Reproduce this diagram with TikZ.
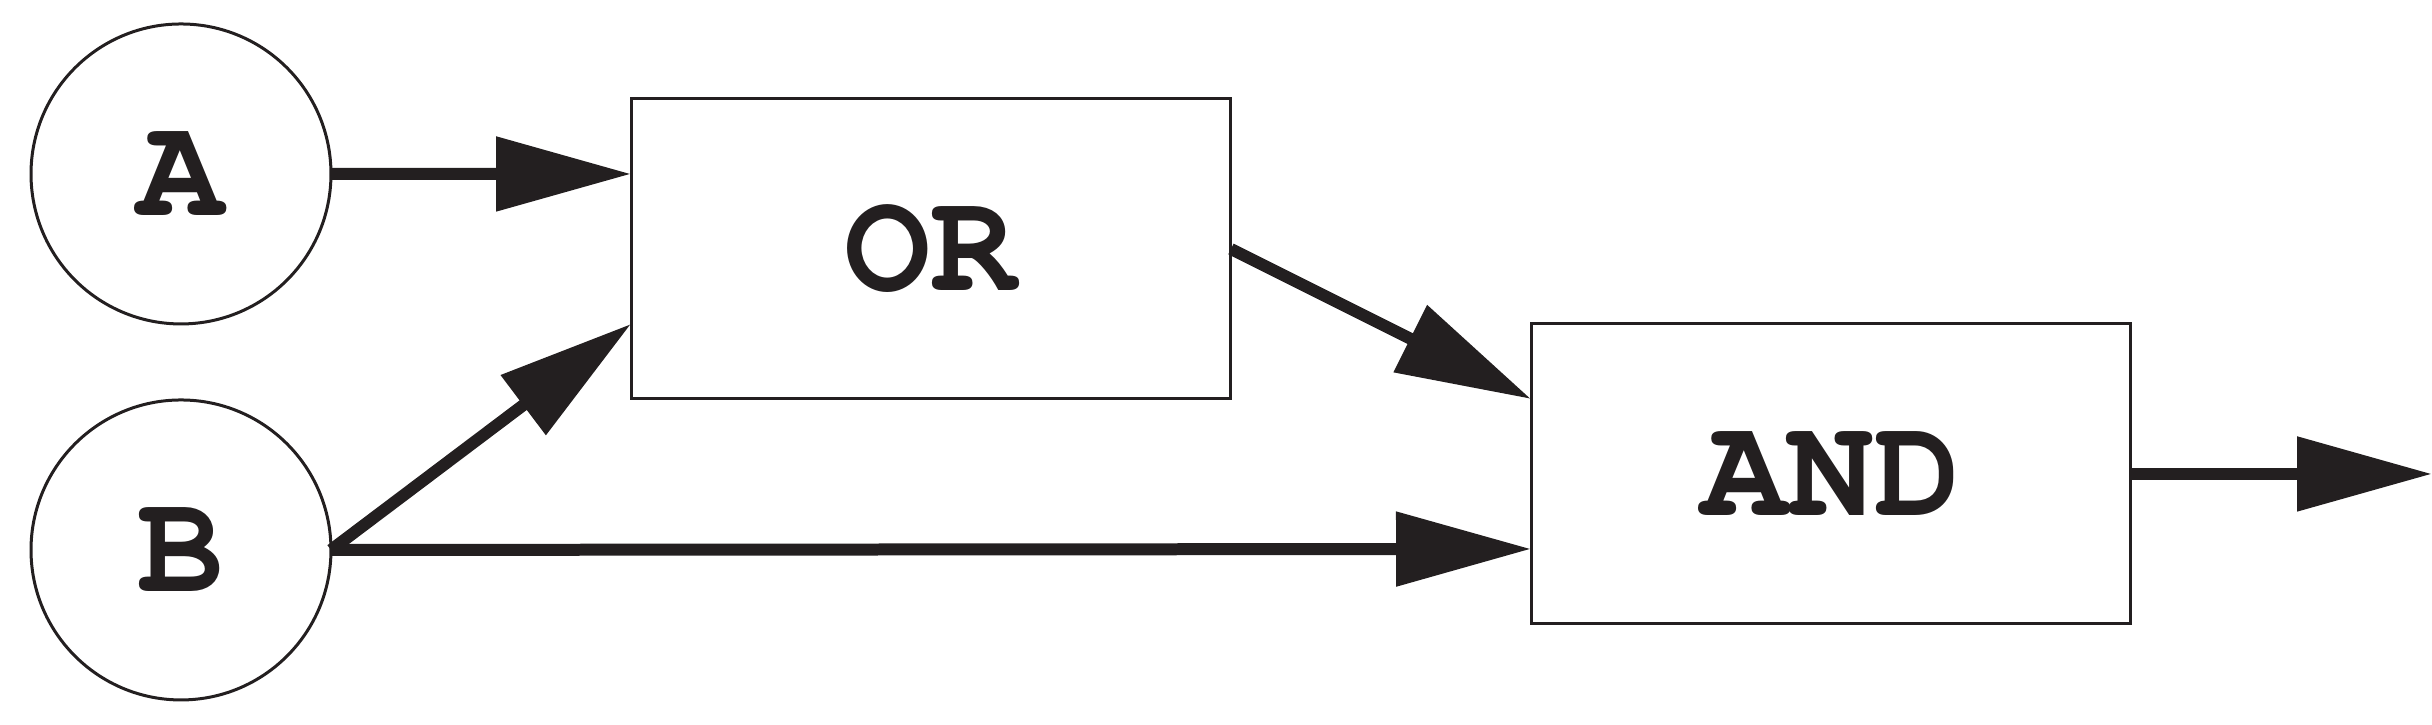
\documentclass[tikz,border=0pt]{standalone}
\usepackage{fontspec}
\setmonofont{TeX Gyre Cursor}
\usetikzlibrary{arrows.meta}
\definecolor{ink}{HTML}{231F20}
\begin{document}
\begin{tikzpicture}[x=0.1pt,y=-0.1pt,
  every node/.style={outer sep=0pt, inner sep=0pt, font=\ttfamily\bfseries\fontsize{14.4}{17}\selectfont, text=ink},
  inp/.style={circle, draw=ink, line width=0.3pt, minimum size=30pt},
  gate/.style={rectangle, draw=ink, line width=0.3pt, minimum width=60pt, minimum height=30pt},
  conn/.style={draw=ink, line width=1.2pt, -{Triangle[length=13.5pt,width=7.2pt]}, ink}]
\useasboundingbox (0,0) rectangle (2432,725);
\node[inp] (A) at (181,174) {A};
\node[inp] (B) at (181,550) {B};
\node[gate] (OR) at (931,249) {OR};
\node[gate] (AND) at (1831,474) {AND};
\coordinate (out) at (2432,474);
\draw[conn] (A.east) -- ([yshift=7.5pt]OR.west);
\draw[conn] (B.east) -- ([yshift=-7.5pt]OR.west);
\draw[conn] (B.east) -- ([yshift=-7.5pt]AND.west);
\draw[conn] (OR.east) -- ([yshift=7.5pt]AND.west);
\draw[conn] (AND.east) -- (out);
\end{tikzpicture}
\end{document}
